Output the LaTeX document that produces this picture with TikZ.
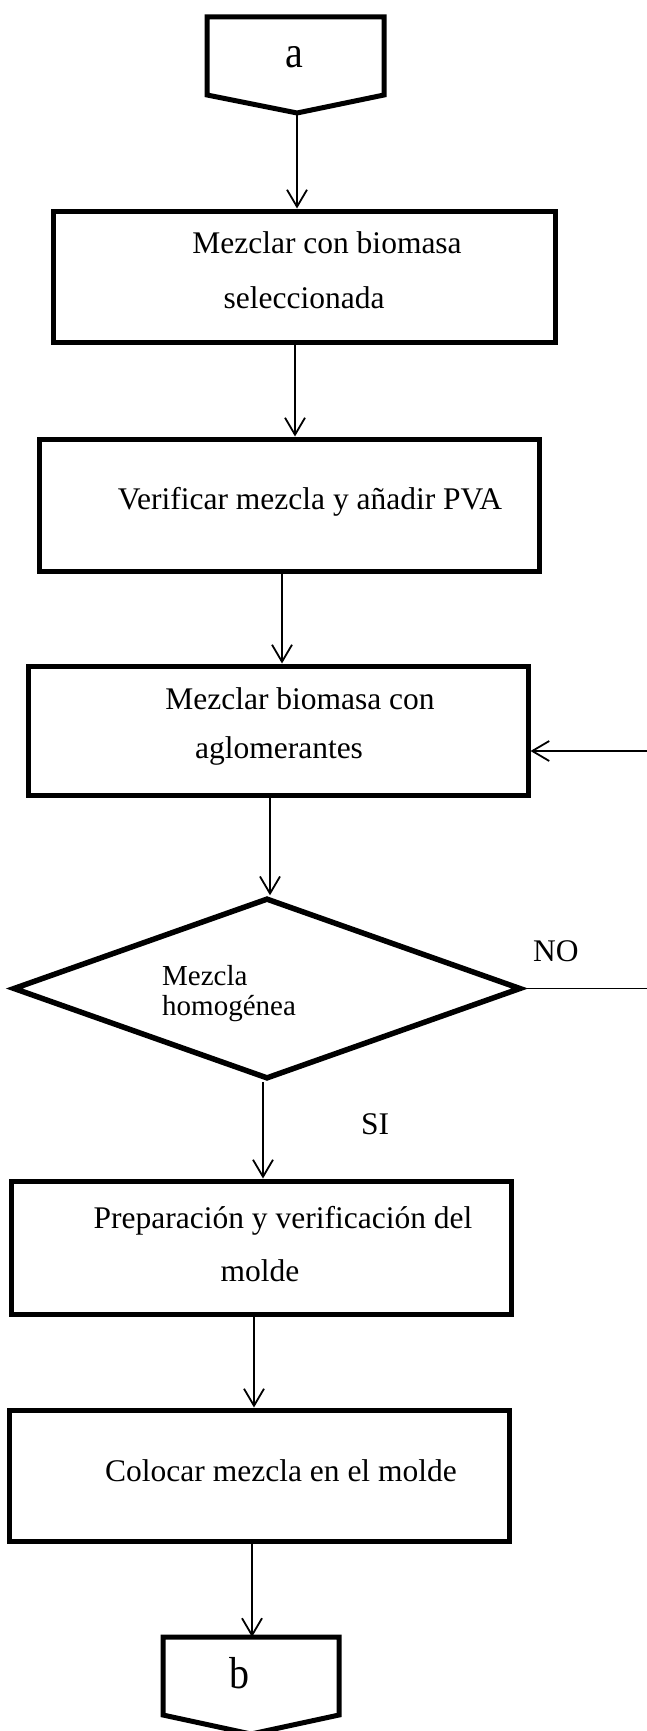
\documentclass[tikz,border=0pt]{standalone}
\usepackage{fontspec}
\usepackage{graphicx}
\setmainfont{Liberation Serif}
\usetikzlibrary{arrows.meta,shapes.geometric,calc}
\tikzset{
 stepbox/.style={draw, rectangle, line width=5pt, line join=miter, inner sep=0pt, minimum width=500pt},
 decbox/.style={draw, diamond, line width=5.5pt, line join=miter, inner sep=0pt},
 pent/.style={draw, line width=5pt, line join=miter},
 conn/.style={line width=1.8pt, -{Straight Barb[length=17pt,width=20pt]}},
 plainline/.style={line width=1.8pt},
 txt/.style={font=\fontsize{31.5}{31.5}\selectfont, anchor=base, inner sep=0pt},
 dtxt/.style={font=\fontsize{29}{29}\selectfont, anchor=base west, inner sep=0pt},
 bigtxt/.style={font=\fontsize{40}{40}\selectfont, anchor=base, inner sep=0pt},
}
\begin{document}
\begin{tikzpicture}[x=1pt,y=-1pt]
\useasboundingbox (0,0) rectangle (647,1731);
% connector a
\draw[pent] (207,17) -- (384,17) -- (384,95) -- (297,113) -- (207,95) -- cycle;
\coordinate (aTip) at (297,113);
\node[bigtxt] (ta) at (294,68) {\scalebox{1}[1.12]{a}};
% boxes
\node[stepbox, minimum width=502pt, minimum height=131pt] (b1) at (304,276.5) {};
\node[txt] (t1a) at (327,253) {Mezclar con biomasa};
\node[txt] (t1b) at (304,308) {seleccionada};

\node[stepbox, minimum height=132pt] (b2) at (289,505) {};
\node[txt] (t2) at (310,509) {Verificar mezcla y añadir PVA};

\node[stepbox, minimum height=129pt] (b3) at (278,730.5) {};
\node[txt] (t3a) at (300,709) {Mezclar biomasa con};
\node[txt] (t3b) at (279,758) {aglomerantes};

\node[decbox, minimum width=508pt, minimum height=181pt] (d) at (267,988.5) {};
\node[dtxt] (tda) at (162,985) {Mezcla};
\node[dtxt] (tdb) at (162,1015) {homogénea};

\node[stepbox, minimum height=133pt] (b4) at (261,1247.5) {};
\node[txt] (t4a) at (283,1228) {Preparación y verificación del};
\node[txt] (t4b) at (260,1281) {molde};

\node[stepbox, minimum height=131pt] (b5) at (259,1475.5) {};
\node[txt] (t5) at (281,1481) {Colocar mezcla en el molde};

% connector b
\draw[pent] (163,1637) -- (339,1637) -- (339,1715) -- (251,1734) -- (163,1715) -- cycle;
\coordinate (bTop) at (252,1637);
\node[bigtxt] (tb) at (239,1688) {\scalebox{1}[1.12]{b}};

% labels
\node[txt, anchor=base west] (no) at (533,961) {NO};
\node[txt, anchor=base west] (si) at (361,1134) {SI};

% arrows
\draw[conn] (aTip) -- (aTip |- b1.north);
\draw[conn] ([xshift=-9pt]b1.south) -- ([xshift=-9pt]b1.south |- b2.north);
\draw[conn] ([xshift=-7pt]b2.south) -- ([xshift=-7pt]b2.south |- b3.north);
\draw[conn] ([xshift=-8pt]b3.south) -- ([xshift=-8pt]b3.south |- d.north);
\draw[conn] ([xshift=-4pt]d.south) -- ([xshift=-4pt]d.south |- b4.north);
\draw[conn] ([xshift=-7pt]b4.south) -- ([xshift=-7pt]b4.south |- b5.north);
\draw[conn] ([xshift=-7pt]b5.south) -- ([xshift=-7pt]b5.south |- bTop);
% loop back (NO)
\coordinate (e1) at (647,988.5);
\coordinate (e2) at (647,751);
\draw[plainline] (d.east) -- (e1);
\draw[conn] (e2) -- (e2 -| b3.east);
\end{tikzpicture}
\end{document}
